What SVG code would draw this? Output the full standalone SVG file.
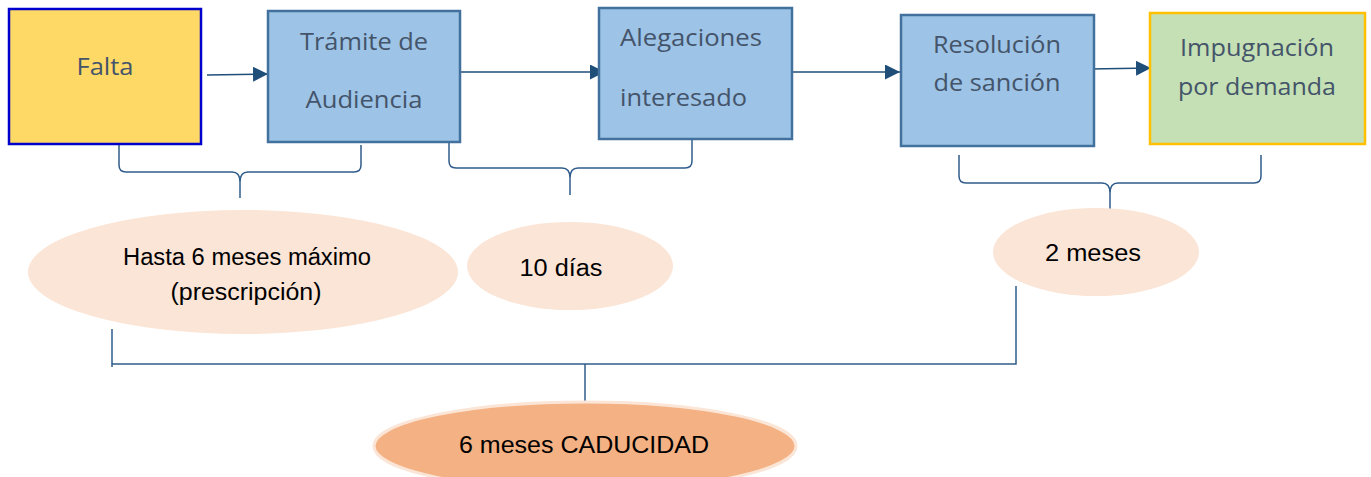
<svg xmlns="http://www.w3.org/2000/svg" width="1371" height="477" viewBox="0 0 1371 477">
<style>
.box{stroke-width:2.5}
.blue{fill:#9DC3E6;stroke:#41719C}
.bt{font-family:"Open Sans","Liberation Sans",sans-serif;font-size:23px;fill:#44546A}
.et{font-family:"Liberation Sans",sans-serif;font-size:23px;fill:#000}
.ell{fill:#FBE5D6}
.con{fill:none;stroke:#2F5C8A;stroke-width:1.5}
.arr{fill:none;stroke:#1F4E79;stroke-width:1.6}
</style>
<defs>
<marker id="ah" viewBox="0 0 10 10" refX="10" refY="5" markerWidth="15" markerHeight="15" markerUnits="userSpaceOnUse" orient="auto">
<path d="M0,0 L10,5 L0,10 z" fill="#1F4E79"/>
</marker>
</defs>
<rect width="1371" height="477" fill="#fff"/>

<g id="connectors">
<line class="arr" x1="207" y1="75" x2="268" y2="74" marker-end="url(#ah)"/>
<line class="arr" x1="460" y1="72" x2="605" y2="72" marker-end="url(#ah)"/>
<line class="arr" x1="792" y1="72" x2="900" y2="72" marker-end="url(#ah)"/>
<line class="arr" x1="1090" y1="69" x2="1151" y2="68" marker-end="url(#ah)"/>
<path class="con" d="M119,145 V165 Q119,172 126,172 H232 Q240,172 240,182 V198 M361,145 V165 Q361,172 354,172 H248 Q240,172 240,182"/>
<path class="con" d="M449,142 V161 Q449,168 456,168 H562 Q570,168 570,178 V195 M692,139 V161 Q692,168 685,168 H578 Q570,168 570,178"/>
<path class="con" d="M959,155 V176 Q959,183 966,183 H1102 Q1110,183 1110,193 V210 M1261,155 V176 Q1261,183 1254,183 H1118 Q1110,183 1110,193"/>
<path class="con" d="M112,329 V367 M112,364 H1016 V286 M585,364 V402"/>
</g>

<g id="falta">
<rect class="box" x="9" y="9" width="192" height="135" fill="#FFD966" stroke="#0000CC"/>
<text class="bt" x="105" y="75" text-anchor="middle" textLength="57" lengthAdjust="spacingAndGlyphs">Falta</text>
</g>
<g id="tramite">
<rect class="box blue" x="268" y="11" width="192" height="131"/>
<text class="bt" x="364" y="50" text-anchor="middle" textLength="128" lengthAdjust="spacingAndGlyphs">Trámite de</text>
<text class="bt" x="364" y="108" text-anchor="middle" textLength="117" lengthAdjust="spacingAndGlyphs">Audiencia</text>
</g>
<g id="alegaciones">
<rect class="box blue" x="599" y="8" width="193" height="131"/>
<text class="bt" x="620" y="46" textLength="142" lengthAdjust="spacingAndGlyphs">Alegaciones</text>
<text class="bt" x="620" y="106" textLength="127" lengthAdjust="spacingAndGlyphs">interesado</text>
</g>
<g id="resolucion">
<rect class="box blue" x="901" y="15" width="193" height="131"/>
<text class="bt" x="997" y="53" text-anchor="middle" textLength="128" lengthAdjust="spacingAndGlyphs">Resolución</text>
<text class="bt" x="997" y="91" text-anchor="middle" textLength="127" lengthAdjust="spacingAndGlyphs">de sanción</text>
</g>
<g id="impugnacion">
<rect class="box" x="1150" y="13" width="215" height="131" fill="#C5E0B4" stroke="#FFC000"/>
<text class="bt" x="1257" y="56" text-anchor="middle" textLength="154" lengthAdjust="spacingAndGlyphs">Impugnación</text>
<text class="bt" x="1257" y="95" text-anchor="middle" textLength="158" lengthAdjust="spacingAndGlyphs">por demanda</text>
</g>

<g id="hasta">
<ellipse class="ell" cx="243" cy="272" rx="215" ry="62"/>
<text class="et" x="247" y="265" text-anchor="middle" textLength="248" lengthAdjust="spacingAndGlyphs">Hasta 6 meses máximo</text>
<text class="et" x="246" y="300" text-anchor="middle" textLength="151" lengthAdjust="spacingAndGlyphs">(prescripción)</text>
</g>
<g id="diez">
<ellipse class="ell" cx="570" cy="266" rx="103" ry="44"/>
<text class="et" x="561" y="276" text-anchor="middle" textLength="83" lengthAdjust="spacingAndGlyphs">10 días</text>
</g>
<g id="dos">
<ellipse class="ell" cx="1096" cy="252" rx="103" ry="44"/>
<text class="et" x="1093" y="261" text-anchor="middle" textLength="96" lengthAdjust="spacingAndGlyphs">2 meses</text>
</g>
<g id="caducidad">
<ellipse cx="585" cy="446" rx="211" ry="44" fill="#F4B183" stroke="#FBE5D6" stroke-width="3"/>
<text class="et" x="584" y="453" text-anchor="middle" textLength="250" lengthAdjust="spacingAndGlyphs">6 meses CADUCIDAD</text>
</g>
</svg>
